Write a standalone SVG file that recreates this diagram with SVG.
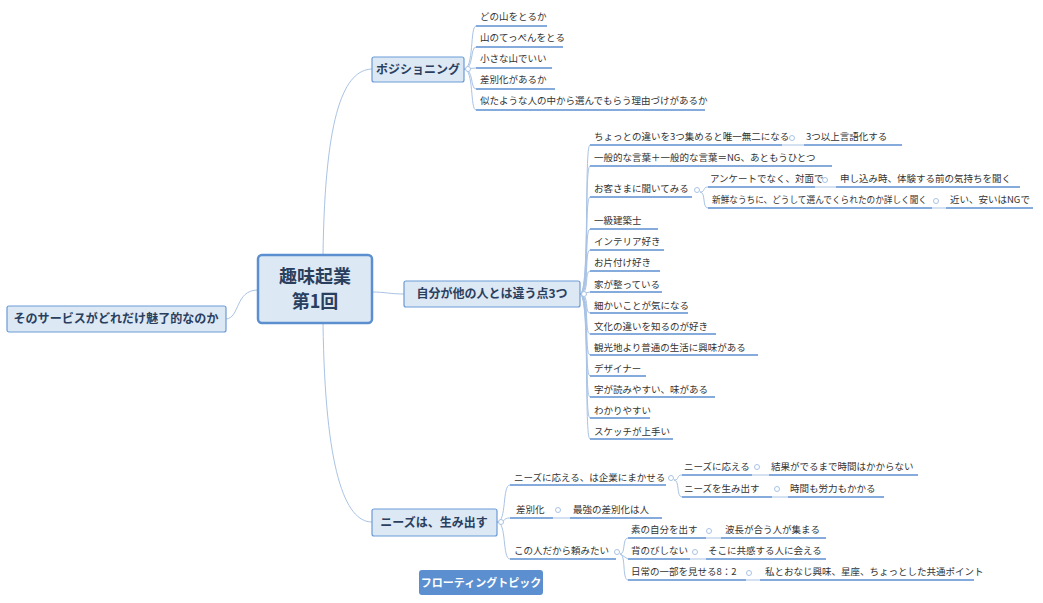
<svg xmlns="http://www.w3.org/2000/svg" width="1043" height="603" viewBox="0 0 1043 603">
<style>
text{font-family:"Noto Sans CJK JP","Liberation Sans",sans-serif;fill:#333;font-size:9.5px}
.u{stroke:#5b8fd0;stroke-width:1.5;fill:none}
.c{stroke:#a9c3e4;stroke-width:1;fill:none}
.m{fill:#dde8f5;stroke:#6b9bd6;stroke-width:1.2}
.mt{font-size:12px;font-weight:bold;fill:#2a3f5e}
</style>
<rect width="1043" height="603" fill="#fff"/>
<g id="connectors">
<path class="c" d="M258 290 C235 290 240 318 226 319"/>
<path class="c" d="M323 255 C325 110 345 70 372 69"/>
<path class="c" d="M372 292 C385 292 390 294 404 294"/>
<path class="c" d="M323 323 C325 470 345 522 372 522"/>
<path class="c" d="M464 69 C474 69 470 26 476 26 M464 69 C474 69 470 47 476 47 M464 69 L476 68 M464 69 C474 69 470 89 476 89 M464 69 C474 69 470 110 476 110"/>
<path class="c" d="M580 294 C590 294 584 145 590 145 M580 294 C590 294 584 166 590 166 M580 294 C590 294 584 197 590 197 M580 294 C590 294 584 229 590 229 M580 294 C590 294 584 250 590 250 M580 294 C590 294 584 271 590 271 M580 294 L590 292 M580 294 C590 294 584 313 590 313 M580 294 C590 294 584 334 590 334 M580 294 C590 294 584 355 590 355 M580 294 C590 294 584 376 590 376 M580 294 C590 294 584 397 590 397 M580 294 C590 294 584 418 590 418 M580 294 C590 294 584 439 590 439"/>
<path class="c" d="M700 192 C706 192 702 187 708 187 M700 192 C706 192 702 208 708 208"/>
<path class="c" d="M497 522 C507 522 502 485 510 485 M497 522 C507 522 502 518 510 518 M497 522 C507 522 502 559 510 559"/>
<path class="c" d="M674 480 C680 480 676 475 682 475 M674 480 C680 480 676 497 682 497"/>
<path class="c" d="M620 554 C626 554 622 538 628 538 M620 554 L628 559 M620 554 C626 554 622 580 628 580"/>
<g fill="#fff" stroke="#a9c3e4">
<circle cx="468" cy="69" r="2.5"/><circle cx="584" cy="294" r="2.5"/><circle cx="501" cy="522" r="2.5"/>
<circle cx="792" cy="138" r="2.5"/><circle cx="697" cy="190" r="2.5"/><circle cx="825" cy="180" r="2.5"/><circle cx="936" cy="201" r="2.5"/>
<circle cx="671" cy="478" r="2.5"/><circle cx="757" cy="467" r="2.5"/><circle cx="777" cy="489" r="2.5"/><circle cx="558" cy="510" r="2.5"/><circle cx="617" cy="552" r="2.5"/><circle cx="709" cy="531" r="2.5"/><circle cx="695" cy="552" r="2.5"/><circle cx="749" cy="573" r="2.5"/>
</g>
<path class="c" d="M782 145 L804 145 M815 187 L836 187 M932 208 L946 208 M752 475 L769 475 M772 497 L788 497 M553 518 L570 518 M706 538 L721 538 M690 559 L706 559 M746 580 L760 580"/>
</g>
<g id="center">
<rect x="258" y="255" width="114" height="68" rx="4" fill="#dde8f5" stroke="#5b8fd0" stroke-width="2.5"/>
<text x="315" y="283" text-anchor="middle" style="font-size:18px;font-weight:bold;fill:#2a3f5e">趣味起業</text>
<text x="315" y="308" text-anchor="middle" style="font-size:18px;font-weight:bold;fill:#2a3f5e">第1回</text>
</g>
<g id="left"><rect class="m" x="7" y="306" width="219" height="26" rx="2"/><text class="mt" x="116" y="323" text-anchor="middle" textLength="205" lengthAdjust="spacingAndGlyphs">そのサービスがどれだけ魅了的なのか</text></g>
<g id="pos"><rect class="m" x="372" y="57" width="92" height="25" rx="2"/><text class="mt" x="418" y="74" text-anchor="middle">ポジショニング</text></g>
<g id="jibun"><rect class="m" x="404" y="281" width="176" height="26" rx="2"/><text class="mt" x="492" y="298" text-anchor="middle">自分が他の人とは違う点3つ</text></g>
<g id="needs"><rect class="m" x="372" y="509" width="125" height="27" rx="2"/><text class="mt" x="434" y="527" text-anchor="middle">ニーズは、生み出す</text></g>
<g id="float"><rect x="419" y="570" width="124" height="25" rx="3" fill="#5b8fd0"/><text x="481" y="587" text-anchor="middle" style="font-size:11px;font-weight:bold;fill:#fff">フローティングトピック</text></g>
<g id="pos-leaves">
<text x="480" y="20">どの山をとるか</text><path class="u" d="M476 26H547"/>
<text x="480" y="41">山のてっぺんをとる</text><path class="u" d="M476 47H563"/>
<text x="480" y="62">小さな山でいい</text><path class="u" d="M476 68H552"/>
<text x="480" y="83">差別化があるか</text><path class="u" d="M476 89H555"/>
<text x="480" y="104">似たような人の中から選んでもらう理由づけがあるか</text><path class="u" d="M476 110H705"/>
</g>
<g id="jibun-leaves">
<text x="594" y="140">ちょっとの違いを3つ集めると唯一無二になる</text><path class="u" d="M590 145H782"/>
<text x="806" y="140">3つ以上言語化する</text><path class="u" d="M804 145H902"/>
<text x="594" y="161">一般的な言葉＋一般的な言葉＝NG、あともうひとつ</text><path class="u" d="M590 166H832"/>
<text x="594" y="192">お客さまに聞いてみる</text><path class="u" d="M590 197H692"/>
<text x="710" y="182">アンケートでなく、対面で</text><path class="u" d="M708 187H815"/>
<text x="840" y="182">申し込み時、体験する前の気持ちを聞く</text><path class="u" d="M836 187H1020"/>
<text x="712" y="203" textLength="215" lengthAdjust="spacingAndGlyphs">新鮮なうちに、どうして選んでくられたのか詳しく聞く</text><path class="u" d="M708 208H932"/>
<text x="950" y="203">近い、安いはNGで</text><path class="u" d="M946 208H1033"/>
<text x="594" y="224">一級建築士</text><path class="u" d="M590 229H658"/>
<text x="594" y="245">インテリア好き</text><path class="u" d="M590 250H664"/>
<text x="594" y="266">お片付け好き</text><path class="u" d="M590 271H660"/>
<text x="594" y="288">家が整っている</text><path class="u" d="M590 292H662"/>
<text x="594" y="309">細かいことが気になる</text><path class="u" d="M590 313H688"/>
<text x="594" y="330">文化の違いを知るのが好き</text><path class="u" d="M590 334H716"/>
<text x="594" y="351">観光地より普通の生活に興味がある</text><path class="u" d="M590 355H758"/>
<text x="594" y="372">デザイナー</text><path class="u" d="M590 376H646"/>
<text x="594" y="393">字が読みやすい、味がある</text><path class="u" d="M590 397H715"/>
<text x="594" y="414">わかりやすい</text><path class="u" d="M590 418H650"/>
<text x="594" y="435">スケッチが上手い</text><path class="u" d="M590 439H673"/>
</g>
<g id="needs-leaves">
<text x="514" y="481">ニーズに応える、は企業にまかせる</text><path class="u" d="M510 485H666"/>
<text x="684" y="470">ニーズに応える</text><path class="u" d="M682 475H752"/>
<text x="771" y="470">結果がでるまで時間はかからない</text><path class="u" d="M769 475H918"/>
<text x="684" y="492">ニーズを生み出す</text><path class="u" d="M682 497H772"/>
<text x="790" y="492">時間も労力もかかる</text><path class="u" d="M788 497H884"/>
<text x="516" y="513">差別化</text><path class="u" d="M510 518H553"/>
<text x="573" y="513">最強の差別化は人</text><path class="u" d="M570 518H662"/>
<text x="514" y="554">この人だから頼みたい</text><path class="u" d="M510 559H616"/>
<text x="631" y="533">素の自分を出す</text><path class="u" d="M628 538H706"/>
<text x="725" y="533">波長が合う人が集まる</text><path class="u" d="M721 538H826"/>
<text x="631" y="554">背のびしない</text><path class="u" d="M628 559H690"/>
<text x="708" y="554">そこに共感する人に会える</text><path class="u" d="M706 559H826"/>
<text x="631" y="575">日常の一部を見せる8：2</text><path class="u" d="M628 580H746"/>
<text x="765" y="575">私とおなじ興味、星座、ちょっとした共通ポイント</text><path class="u" d="M760 580H974"/>
</g>
</svg>
